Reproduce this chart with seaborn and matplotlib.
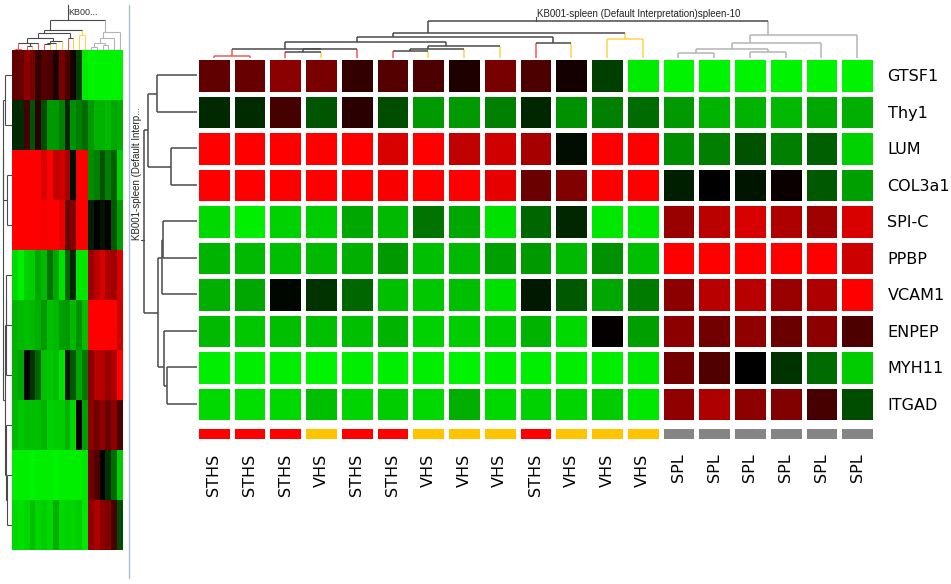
import numpy as np
import pandas as pd
import matplotlib
matplotlib.use('Agg')
import matplotlib.pyplot as plt
import seaborn as sns
from matplotlib.colors import LinearSegmentedColormap, ListedColormap
from matplotlib.lines import Line2D

# --- data ---
genes = ['GTSF1', 'Thy1', 'LUM', 'COL3a1', 'SPI-C', 'PPBP', 'VCAM1', 'ENPEP', 'MYH11', 'ITGAD']
samples = ['STHS', 'STHS', 'STHS', 'VHS', 'STHS', 'STHS', 'VHS', 'VHS', 'VHS', 'STHS',
           'VHS', 'VHS', 'VHS', 'SPL', 'SPL', 'SPL', 'SPL', 'SPL', 'SPL']

# log ratio, scaled -1 (green) .. 0 (black) .. 1 (red)
gtsf1 = [0.38, 0.40, 0.54, 0.47, 0.20, 0.33, 0.30, 0.12, 0.47, 0.30, 0.08, -0.25, -0.92, -0.95, -0.95, -0.95, -0.95, -0.95, -0.95]
thy1 = [-0.16, -0.17, 0.27, -0.33, 0.17, -0.30, -0.60, -0.60, -0.50, -0.15, -0.57, -0.50, -0.42, -0.60, -0.70, -0.70, -0.72, -0.65, -0.68]
lum = [1.0, 1.0, 1.0, 1.0, 1.0, 0.85, 1.0, 0.75, 0.82, 0.65, -0.05, 1.0, 1.0, -0.55, -0.50, -0.32, -0.50, -0.37, -0.82]
col3a1 = [1.0, 1.0, 1.0, 1.0, 1.0, 0.97, 1.0, 1.0, 0.90, 0.42, 0.50, 1.0, 1.0, -0.12, 0.0, -0.08, 0.04, -0.35, -0.62]
spic = [-0.85, -0.93, -0.82, -0.80, -0.65, -0.72, -0.45, -0.65, -0.88, -0.40, -0.15, -0.90, -0.90, 0.60, 0.73, 0.85, 0.68, 0.62, 0.85]
ppbp = [-0.70, -0.72, -0.75, -0.72, -0.68, -0.60, -0.75, -0.72, -0.62, -0.60, -0.72, -0.57, -0.75, 1.0, 1.0, 1.0, 1.0, 1.0, 0.80]
vcam1 = [-0.68, -0.65, -0.03, -0.20, -0.40, -0.75, -0.78, -0.75, -0.88, -0.10, -0.35, -0.65, -0.48, 0.55, 0.72, 0.72, 0.60, 0.68, 1.0]
enpep = [-0.72, -0.78, -0.75, -0.75, -0.75, -0.70, -0.82, -0.80, -0.80, -0.70, -0.85, 0.02, -0.62, 0.55, 0.45, 0.57, 0.42, 0.55, 0.30]
myh11 = [-0.93, -0.93, -0.93, -0.95, -0.93, -0.93, -0.93, -0.95, -0.93, -0.93, -0.93, -0.93, -0.90, 0.45, 0.32, 0.0, -0.20, -0.42, -0.80]
itgad = [-0.85, -0.87, -0.85, -0.75, -0.83, -0.80, -0.85, -0.68, -0.85, -0.82, -0.83, -0.80, -0.90, 0.57, 0.68, 0.55, 0.50, 0.28, -0.30]

# linkage (child a, child b, height in px); new clusters numbered from n like scipy
col_links = [(0, 1, 1.2), (2, 3, 5.2), (20, 4, 8.5), (19, 21, 8.6), (5, 6, 6.8),
             (23, 7, 8.5), (24, 8, 11.2), (22, 25, 15.2), (9, 10, 14.2), (26, 27, 20.8),
             (11, 12, 18.5), (28, 29, 24.5), (13, 14, 4.2), (15, 16, 5.8), (31, 32, 8.5),
             (33, 17, 14.2), (34, 18, 22.5), (30, 35, 36.8)]
row_links = [(0, 1, 40.3), (2, 3, 26.3), (10, 11, 49.3), (4, 5, 34.0), (13, 6, 35.3),
             (8, 9, 30.0), (7, 15, 32.7), (14, 16, 39.0), (12, 17, 52.7)]

tree_label = 'KB001-spleen (Default Interpretation)spleen-10'
row_tree_label = 'KB001-spleen (Default Interp...'
class_order = ['STHS', 'VHS', 'SPL']
class_colors = ['#ff0000', '#ffc400', '#858585']
branch_colors = {'STHS': '#f05a5a', 'VHS': '#ffd24a', 'SPL': '#b4b4b4'}

df = pd.DataFrame([gtsf1, thy1, lum, col3a1, spic, ppbp, vcam1, enpep, myh11, itgad],
                  index=genes, columns=range(len(samples)))

W, H = 951, 584
cmap = LinearSegmentedColormap.from_list('gbr', ['#00ff00', '#000000', '#ff0000'])


def px_axes(fig, x0, y0, x1, y1):
    ax = fig.add_axes([x0 / W, 1 - y1 / H, (x1 - x0) / W, (y1 - y0) / H])
    ax.set_axis_off()
    return ax


def draw_tree(ax, links, n, classes=None, orient='top', lw=1.0, dark='#4a4a4a'):
    span = {i: (i, i) for i in range(n)}
    hgt = {i: 0.0 for i in range(n)}
    for k, (a, b, h) in enumerate(links):
        span[n + k] = (span[a][0], span[b][1])
        hgt[n + k] = h

    def pos(c):
        return (span[c][0] + span[c][1]) / 2 + 0.5

    def color(c):
        if classes is None:
            return dark
        cls = set(classes[span[c][0]:span[c][1] + 1])
        return branch_colors[cls.pop()] if len(cls) == 1 else dark

    def seg(p0, p1, h0, h1, c):
        if orient == 'top':
            ax.plot([p0, p1], [h0, h1], color=c, lw=lw, solid_capstyle='butt')
        else:
            ax.plot([h0, h1], [p0, p1], color=c, lw=lw, solid_capstyle='butt')

    for k, (a, b, h) in enumerate(links):
        node = n + k
        for c in (a, b):
            seg(pos(c), pos(c), hgt[c], h, color(c))
        seg(pos(a), pos(b), h, h, color(node))
    root = n + len(links) - 1
    return pos(root), hgt[root]


fig = plt.figure(figsize=(W / 100, H / 100), dpi=100)
n_col, n_row = len(samples), len(genes)

# ---- main heatmap ----
ax_hm = fig.add_axes([196 / W, 1 - 422 / H, 679 / W, 365 / H])
sns.heatmap(df, ax=ax_hm, cmap=cmap, vmin=-1, vmax=1, cbar=False,
            linewidths=2.2, linecolor='white', xticklabels=False, yticklabels=genes)
ax_hm.yaxis.tick_right()
ax_hm.set_ylabel('')
ax_hm.tick_params(axis='y', length=0, pad=9, labelsize=11.5, labelrotation=0)

# class strip under heatmap
codes = np.array([[class_order.index(s) for s in samples]])
ax_cls = fig.add_axes([196 / W, 1 - 441 / H, 679 / W, 15 / H])
sns.heatmap(codes, ax=ax_cls, cmap=ListedColormap(class_colors), vmin=-0.5, vmax=2.5,
            cbar=False, linewidths=2.2, linecolor='white', yticklabels=False)
ax_cls.set_xticklabels(samples, rotation=90, fontsize=11.5)
ax_cls.tick_params(axis='x', length=0, pad=9)

# column dendrogram
ax_ct = px_axes(fig, 196, 8, 875, 57.5)
rx, rh = draw_tree(ax_ct, col_links, n_col, classes=samples, orient='top', lw=1.1)
ax_ct.plot([rx, rx], [rh, rh + 3.5], color='#4a4a4a', lw=0.8)
ax_ct.text(rx + 0.05, rh + 6.5, tree_label, fontsize=7, family='Liberation Sans',
           va='center', ha='left', color='#222222')
ax_ct.set_xlim(0, n_col)
ax_ct.set_ylim(0, 49.5)

# row dendrogram
ax_rt = px_axes(fig, 128, 57, 197, 422)
ry, rhh = draw_tree(ax_rt, row_links, n_row, orient='left', lw=1.1)
ax_rt.plot([rhh, rhh + 3.0], [ry, ry], color='#4a4a4a', lw=0.8)
ax_rt.text(60, ry, row_tree_label, rotation=90, fontsize=7, family='Liberation Sans',
           va='bottom', ha='center', color='#222222')
ax_rt.set_ylim(n_row, 0)
ax_rt.set_xlim(69, 0)

# ---- overview thumbnail on the left ----
ax_th = px_axes(fig, 12, 50, 123, 550)
sns.heatmap(df, ax=ax_th, cmap=cmap, vmin=-1, vmax=1, cbar=False,
            xticklabels=False, yticklabels=False)

ax_tt = px_axes(fig, 12, 2, 123, 50)
tx, th = draw_tree(ax_tt, col_links, n_col, classes=samples, orient='top', lw=0.8)
ax_tt.plot([tx, tx], [th, th + 18], color='#4a4a4a', lw=0.8)
ax_tt.text(tx + 0.1, th + 9, 'KB00...', fontsize=6.5, family='Liberation Sans',
           va='center', ha='left', color='#333333')
ax_tt.set_xlim(0, n_col)
ax_tt.set_ylim(0, 58.9)

ax_tr = px_axes(fig, 0, 50, 12, 550)
draw_tree(ax_tr, row_links, n_row, orient='left', lw=0.8)
ax_tr.set_ylim(n_row, 0)
ax_tr.set_xlim(66.6, 0)

# separator between overview and main view
fig.add_artist(Line2D([128.5 / W, 128.5 / W], [1 - 5 / H, 1 - 578 / H],
                      color='#a9c2cb', lw=1.0, transform=fig.transFigure))

plt.savefig('out.png', dpi=100)
